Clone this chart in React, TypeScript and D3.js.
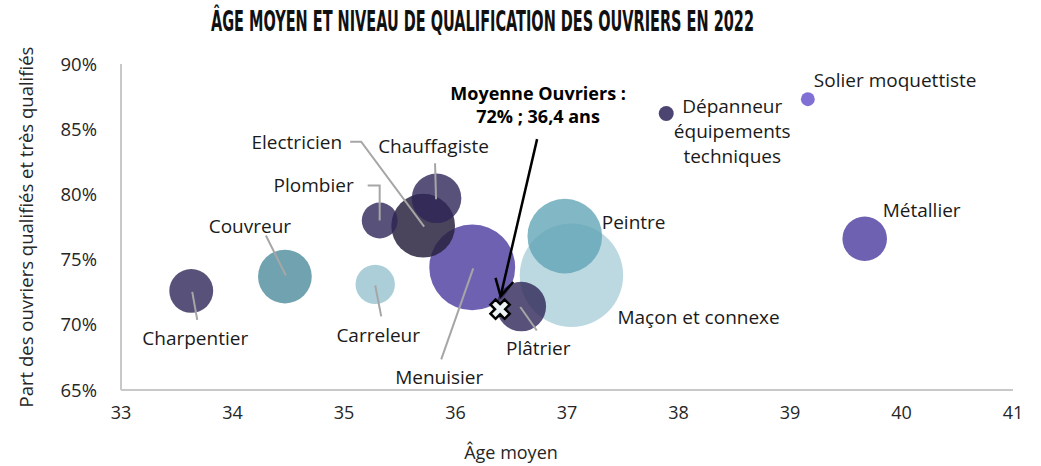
import React, { useEffect, useRef } from "react";
import * as d3 from "d3";

// Data
const metiers = [
	"Charpentier",
	"Couvreur",
	"Carreleur",
	"Plombier",
	"Electricien",
	"Chauffagiste",
	"Menuisier",
	"Plâtrier",
	"Peintre",
	"Maçon et connexe",
	"Dépanneur équipements techniques",
	"Solier moquettiste",
	"Métallier",
];
const ageMoyen = [33.63, 34.47, 35.28, 35.32, 35.71, 35.83, 36.15, 36.59, 36.98, 37.04, 37.89, 39.16, 39.67];
const partQualifies = [72.6, 73.7, 73.1, 78.0, 77.6, 79.7, 74.4, 71.4, 76.8, 73.8, 86.2, 87.3, 76.6];
const effectif = [18, 27, 14.5, 12, 38, 23, 69, 23, 52, 100, 2.1, 1.8, 18.6];

const moyenneAge = 36.4;
const moyennePart = 71.2;
const moyenneLabel = ["Moyenne Ouvriers :", "72% ; 36,4 ans"];

const xTicks = [33, 34, 35, 36, 37, 38, 39, 40, 41];
const yTicks = [65, 70, 75, 80, 85, 90];

// Styles per metier
const fills: Record<string, [string, number]> = {
	Charpentier: ["#2e2558", 0.8],
	Couvreur: ["#4c8b9b", 0.8],
	Carreleur: ["#9cc6d2", 0.85],
	Plombier: ["#2e2558", 0.8],
	Electricien: ["#2a2340", 0.85],
	Chauffagiste: ["#2e2558", 0.8],
	Menuisier: ["#4b3a9e", 0.8],
	Plâtrier: ["#2e2558", 0.8],
	Peintre: ["#5fa3b5", 0.78],
	"Maçon et connexe": ["#a6ccd8", 0.75],
	"Dépanneur équipements techniques": ["#2e2558", 0.85],
	"Solier moquettiste": ["#6a57cf", 0.85],
	Métallier: ["#4b3a9e", 0.8],
};

// Label layout: offsets from bubble centre (px), anchor, leader line points
type Lab = { dx: number; dy: number; anchor: string; lines?: string[]; leader?: [number, number][] };
const labels: Record<string, Lab> = {
	Charpentier: { dx: 4, dy: 47, anchor: "middle", leader: [[1, 1], [6, 29]] },
	Couvreur: { dx: -35, dy: -51, anchor: "middle", leader: [[-19, -41], [1, -1]] },
	Carreleur: { dx: 3, dy: 51, anchor: "middle", leader: [[0, 1], [6, 32]] },
	Plombier: { dx: -26, dy: -35, anchor: "end", leader: [[-12, -35], [0, -35], [0, 0]] },
	Electricien: { dx: -81, dy: -84, anchor: "end", leader: [[-73, -84], [-62, -84], [1, 1]] },
	Chauffagiste: { dx: -3, dy: -52, anchor: "middle", leader: [[-1.5, -35], [-0.5, 1]] },
	Menuisier: { dx: -33, dy: 110, anchor: "middle", leader: [[1, 1], [-31, 92]] },
	Plâtrier: { dx: 17, dy: 41, anchor: "middle", leader: [[-1, 0.5], [15.5, 24]] },
	Peintre: { dx: 37, dy: -14, anchor: "start" },
	"Maçon et connexe": { dx: 46, dy: 42, anchor: "start" },
	"Dépanneur équipements techniques": {
		dx: 66,
		dy: -8,
		anchor: "middle",
		lines: ["Dépanneur", "équipements", "techniques"],
	},
	"Solier moquettiste": { dx: 6, dy: -19, anchor: "start" },
	Métallier: { dx: 18, dy: -29, anchor: "start" },
};

const W = 1041;
const H = 466;
const FONT = "'Open Sans', 'Noto Sans', sans-serif";

export default function App() {
	const ref = useRef<SVGSVGElement>(null);

	useEffect(() => {
		const svg = d3.select(ref.current).html("");

		const x = d3.scaleLinear().domain([33, 41]).range([121, 1013]);
		const y = d3.scaleLinear().domain([65, 90]).range([390, 64]);
		const r = d3.scaleSqrt().domain([0, 100]).range([0, 51.7]);

		// Title
		svg
			.append("text")
			.attr("x", 482.5)
			.attr("y", 31)
			.attr("text-anchor", "middle")
			.attr("font-family", "'Liberation Sans Narrow', 'DejaVu Sans Condensed', sans-serif")
			.attr("font-weight", 700)
			.attr("font-size", 29)
			.attr("textLength", 543)
			.attr("lengthAdjust", "spacingAndGlyphs")
			.attr("fill", "#111")
			.text("ÂGE MOYEN ET NIVEAU DE QUALIFICATION DES OUVRIERS EN 2022");

		// Axes lines
		svg
			.append("line")
			.attr("x1", x(33))
			.attr("x2", x(33))
			.attr("y1", y(90))
			.attr("y2", y(65))
			.attr("stroke", "#c8c8c8")
			.attr("stroke-width", 2);
		svg
			.append("line")
			.attr("x1", x(33))
			.attr("x2", x(41))
			.attr("y1", y(65))
			.attr("y2", y(65))
			.attr("stroke", "#c8c8c8")
			.attr("stroke-width", 2);

		// Tick labels
		svg
			.append("g")
			.selectAll("text")
			.data(yTicks)
			.join("text")
			.attr("x", 97)
			.attr("y", d => y(d) + 6.5)
			.attr("text-anchor", "end")
			.attr("font-family", FONT)
			.attr("font-size", 18.5)
			.attr("fill", "#262626")
			.text(d => `${d}%`);

		svg
			.append("g")
			.selectAll("text")
			.data(xTicks)
			.join("text")
			.attr("x", d => x(d))
			.attr("y", 419)
			.attr("text-anchor", "middle")
			.attr("font-family", FONT)
			.attr("font-size", 18)
			.attr("fill", "#262626")
			.text(d => d);

		// Axis titles
		svg
			.append("text")
			.attr("x", 511)
			.attr("y", 459)
			.attr("text-anchor", "middle")
			.attr("font-family", FONT)
			.attr("font-size", 18)
			.attr("fill", "#262626")
			.text("Âge moyen");

		svg
			.append("text")
			.attr("transform", "translate(33, 227) rotate(-90)")
			.attr("text-anchor", "middle")
			.attr("font-family", FONT)
			.attr("font-size", 18.5)
			.attr("fill", "#262626")
			.text("Part des ouvriers qualifiés et très qualifiés");

		// Bubbles, largest first
		const idx = d3.range(metiers.length).sort((a, b) => effectif[b] - effectif[a]);
		svg
			.append("g")
			.selectAll("circle")
			.data(idx)
			.join("circle")
			.attr("cx", i => x(ageMoyen[i]))
			.attr("cy", i => y(partQualifies[i]))
			.attr("r", i => r(effectif[i]))
			.attr("fill", i => fills[metiers[i]][0])
			.attr("fill-opacity", i => fills[metiers[i]][1]);

		// Leader lines and labels
		const lg = svg.append("g");
		metiers.forEach((m, i) => {
			const cx = x(ageMoyen[i]);
			const cy = y(partQualifies[i]);
			const l = labels[m];
			if (l.leader) {
				lg.append("polyline")
					.attr("points", l.leader.map(p => `${cx + p[0]},${cy + p[1]}`).join(" "))
					.attr("fill", "none")
					.attr("stroke", "#a6a6a6")
					.attr("stroke-width", 2);
			}
			const lines = l.lines || [m];
			lines.forEach((t, k) => {
				lg.append("text")
					.attr("x", cx + l.dx)
					.attr("y", cy + l.dy + 7 + k * 25)
					.attr("text-anchor", l.anchor)
					.attr("font-family", FONT)
					.attr("font-size", 19)
					.attr("fill", "#1a1a1a")
					.text(t);
			});
		});

		// Average marker and annotation
		const mx = x(moyenneAge);
		const my = y(moyennePart);
		const sx = mx + 37;
		const sy = my - 170;
		const tx = mx + 0.5;
		const ty = my - 13;
		svg
			.append("line")
			.attr("x1", sx)
			.attr("y1", sy)
			.attr("x2", tx)
			.attr("y2", ty)
			.attr("stroke", "#000")
			.attr("stroke-width", 2.5);
		const ang = Math.atan2(ty - sy, tx - sx);
		const head = [ang + Math.PI - 0.5, ang + Math.PI + 0.5].map(a => [tx + 19 * Math.cos(a), ty + 19 * Math.sin(a)]);
		svg
			.append("polyline")
			.attr("points", `${head[0][0]},${head[0][1]} ${tx},${ty} ${head[1][0]},${head[1][1]}`)
			.attr("fill", "none")
			.attr("stroke", "#000")
			.attr("stroke-width", 2.5);

		const a = 10;
		const b = 3.6;
		const cross = d3.path();
		const pts = [
			[-b, -a], [b, -a], [b, -b], [a, -b], [a, b], [b, b],
			[b, a], [-b, a], [-b, b], [-a, b], [-a, -b], [-b, -b],
		];
		pts.forEach((p, k) => (k ? cross.lineTo(p[0], p[1]) : cross.moveTo(p[0], p[1])));
		cross.closePath();
		svg
			.append("path")
			.attr("d", cross.toString())
			.attr("transform", `translate(${mx},${my}) rotate(45)`)
			.attr("fill", "#eef4f6")
			.attr("stroke", "#000")
			.attr("stroke-width", 2.5)
			.attr("stroke-linejoin", "miter");

		moyenneLabel.forEach((t, k) => {
			svg
				.append("text")
				.attr("x", mx + 38)
				.attr("y", 99.5 + k * 23)
				.attr("text-anchor", "middle")
				.attr("font-family", FONT)
				.attr("font-weight", 700)
				.attr("font-size", 18)
				.attr("fill", "#000")
				.text(t);
		});
	}, []);

	return (
		<svg
			ref={ref}
			width={W}
			height={H}
			viewBox={`0 0 ${W} ${H}`}
			style={{ position: "absolute", left: 0, top: 0, background: "#fff" }}
		/>
	);
}
